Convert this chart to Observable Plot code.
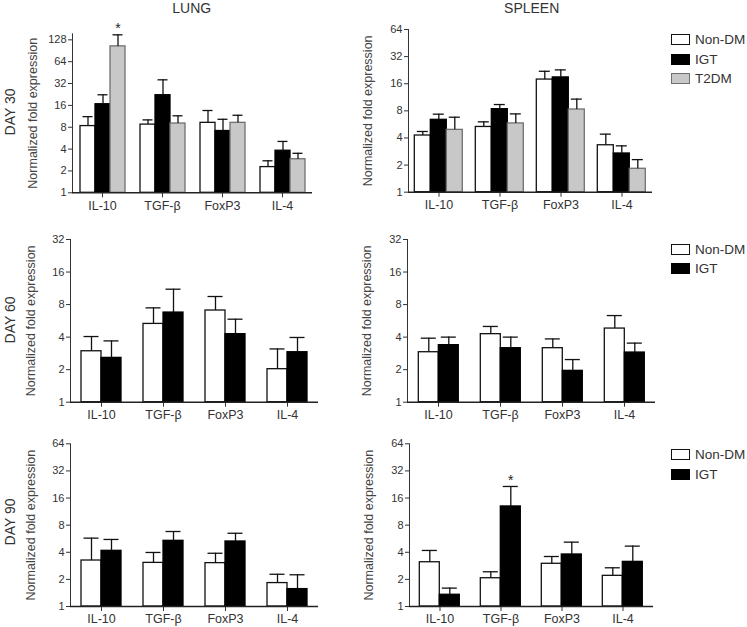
<!DOCTYPE html>
<html><head><meta charset="utf-8">
<script src="https://cdn.jsdelivr.net/npm/d3@7"></script>
<script src="https://cdn.jsdelivr.net/npm/@observablehq/plot@0.6"></script>
<style>
body{margin:0;background:#fff;font-family:"Liberation Sans",Arial,sans-serif;color:#333;}
#root{position:relative;width:747px;height:627px;overflow:hidden;background:#fff;}
.abs{position:absolute;}
.title{font-size:14px;color:#333;transform:translateX(-50%);white-space:nowrap;}
.rowlab{font-size:14px;color:#333;white-space:nowrap;transform:translate(-50%,-50%) rotate(-90deg);}
.legend{font-size:13.5px;color:#333;}
.legend .item{display:flex;align-items:center;height:19.5px;}
.legend .sw{width:17px;height:9px;border:1.3px solid #111;margin-right:5px;}
svg [aria-label="fx-axis tick label"]{font-size:12.5px;}
svg [aria-label="y-axis label"]{font-size:12.5px;fill:#444;}
</style></head><body><div id="root"></div>
<script>
const cytokines = ["IL-10", "TGF-β", "FoxP3", "IL-4"];
const groups3 = ["Non-DM", "IGT", "T2DM"];
const groups2 = ["Non-DM", "IGT"];
const yTicks = [1, 2, 4, 8, 16, 32, 64, 128];

// means [group][cytokine], error-bar tops [group][cytokine]
const lung30Mean = [[8.3, 8.7, 9.2, 2.26], [16.6, 22.1, 7.1, 3.8], [104, 9.0, 9.2, 2.9]];
const lung30Err  = [[11.2, 10.1, 13.6, 2.76], [22.4, 36, 10.3, 5.1], [150, 11.5, 11.7, 3.5]];
const spleen30Mean = [[4.26, 5.3, 17.8, 3.32], [6.36, 8.35, 18.8, 2.69], [4.92, 5.8, 8.28, 1.82]];
const spleen30Err  = [[4.72, 6.04, 22.0, 4.41], [7.35, 9.4, 22.8, 3.27], [6.8, 7.4, 10.8, 2.3]];
const lung60Mean = [[2.96, 5.3, 7.05, 2.02], [2.57, 6.75, 4.26, 2.9]];
const lung60Err  = [[4.05, 7.46, 9.5, 3.11], [3.69, 11.1, 5.86, 3.97]];
const spleen60Mean = [[2.9, 4.26, 3.16, 4.8], [3.37, 3.16, 1.95, 2.88]];
const spleen60Err  = [[3.91, 5.02, 3.85, 6.33], [4.0, 4.0, 2.48, 3.52]];
const lung90Mean = [[3.24, 3.05, 3.03, 1.82], [4.15, 5.36, 5.27, 1.56]];
const lung90Err  = [[5.74, 3.98, 3.9, 2.28], [5.55, 6.8, 6.5, 2.25]];
const spleen90Mean = [[3.1, 2.06, 2.98, 2.19], [1.35, 12.9, 3.78, 3.13]];
const spleen90Err  = [[4.19, 2.43, 3.59, 2.69], [1.6, 21.5, 5.18, 4.68]];
const lung30Stars = [["IL-10", "T2DM"]];
const spleen90Stars = [["TGF-β", "IGT"]];

const fills = {"Non-DM": "#ffffff", "IGT": "#000000", "T2DM": "#c8c8c8"};
const strokes = {"Non-DM": "#111111", "IGT": "#000000", "T2DM": "#707070"};

function rows(groups, means, errs, stars = []) {
  const out = [];
  groups.forEach((g, gi) => cytokines.forEach((c, ci) => out.push({
    cytokine: c, group: g, value: means[gi][ci], err: errs[gi][ci],
    star: stars.some(s => s[0] === c && s[1] === g)
  })));
  return out;
}

function panel({groups, means, errs, stars, ymax, width, height, ml, mr, mt, mb, labelOffset}) {
  const data = rows(groups, means, errs, stars);
  return Plot.plot({
    width, height, marginLeft: ml, marginRight: mr, marginTop: mt, marginBottom: mb,
    style: {fontFamily: "Liberation Sans, Arial, sans-serif", fontSize: "11px", color: "#333", background: "transparent", overflow: "visible"},
    fx: {domain: cytokines, padding: 0, label: null, tickSize: 5, tickPadding: 3},
    x: {domain: groups, paddingInner: 0, paddingOuter: groups.length === 3 ? 0.4 : 0.52, axis: null},
    y: {type: "log", base: 2, domain: [1, ymax], ticks: yTicks.filter(t => t <= ymax), tickFormat: d => String(d),
        tickSize: 4, tickPadding: 2, line: true, label: "Normalized fold expression", labelAnchor: "center",
        labelOffset, labelArrow: "none"},
    marks: [
      ...groups.map(g => Plot.barY(data.filter(d => d.group === g), {
        fx: "cytokine", x: "group", y1: () => 1, y2: "value", fill: fills[g], stroke: strokes[g], strokeWidth: 1.3
      })),
      Plot.ruleX(data, {fx: "cytokine", x: "group", y1: "value", y2: "err", stroke: "#111", strokeWidth: 1.3}),
      Plot.tickY(data, {fx: "cytokine", x: "group", y: "err", stroke: "#111", strokeWidth: 1.3, insetLeft: 2.5, insetRight: 2.5}),
      Plot.text(data.filter(d => d.star), {fx: "cytokine", x: "group", y: "err", text: () => "*", dy: -6, fontSize: 14, fill: "#222"}),
      Plot.ruleY([1], {stroke: "#222", strokeWidth: 1.5})
    ]
  });
}

const root = document.getElementById("root");
function place(el, left, top) {
  const wrap = document.createElement("div");
  wrap.className = "abs";
  wrap.style.left = left + "px";
  wrap.style.top = top + "px";
  wrap.appendChild(el);
  root.appendChild(wrap);
  return wrap;
}
function textDiv(cls, txt, left, top) {
  const d = document.createElement("div");
  d.className = "abs " + cls;
  d.textContent = txt;
  d.style.left = left + "px";
  d.style.top = top + "px";
  root.appendChild(d);
}
function legend(groups, left, top) {
  const box = document.createElement("div");
  box.className = "abs legend";
  box.style.left = left + "px";
  box.style.top = top + "px";
  groups.forEach(g => {
    const it = document.createElement("div");
    it.className = "item";
    const sw = document.createElement("div");
    sw.className = "sw";
    sw.style.background = fills[g];
    sw.style.borderColor = strokes[g];
    const lab = document.createElement("span");
    lab.textContent = g;
    it.appendChild(sw); it.appendChild(lab);
    box.appendChild(it);
  });
  root.appendChild(box);
}

// Row 1 — Day 30
place(panel({groups: groups3, means: lung30Mean, errs: lung30Err, stars: lung30Stars, ymax: 155,
  width: 325, height: 222, ml: 70, mr: 12, mt: 33.3, mb: 29.7, labelOffset: 44}), 0, 0);
place(panel({groups: groups3, means: spleen30Mean, errs: spleen30Err, stars: [], ymax: 64,
  width: 407, height: 222, ml: 67.7, mr: 94, mt: 29, mb: 30.3, labelOffset: 45.5}), 340, 0);
// Row 2 — Day 60
place(panel({groups: groups2, means: lung60Mean, errs: lung60Err, stars: [], ymax: 32,
  width: 325, height: 222, ml: 70, mr: 7, mt: 29, mb: 30.3, labelOffset: 44}), 0, 210);
place(panel({groups: groups2, means: spleen60Mean, errs: spleen60Err, stars: [], ymax: 32,
  width: 407, height: 222, ml: 66.7, mr: 92, mt: 29, mb: 30.3, labelOffset: 45.5}), 340, 210);
// Row 3 — Day 90
place(panel({groups: groups2, means: lung90Mean, errs: lung90Err, stars: [], ymax: 64,
  width: 325, height: 207, ml: 70, mr: 7, mt: 23.3, mb: 21, labelOffset: 44}), 0, 420);
place(panel({groups: groups2, means: spleen90Mean, errs: spleen90Err, stars: spleen90Stars, ymax: 64,
  width: 407, height: 207, ml: 67.7, mr: 92, mt: 23.3, mb: 21, labelOffset: 45.5}), 340, 420);

textDiv("title", "LUNG", 191.7, 0);
textDiv("title", "SPLEEN", 531.7, 0);
textDiv("rowlab", "DAY 30", 10, 112);
textDiv("rowlab", "DAY 60", 10, 320);
textDiv("rowlab", "DAY 90", 10, 522);

legend(groups3, 671, 30);
legend(groups2, 671, 239.5);
legend(groups2, 671, 445);
</script></body></html>
